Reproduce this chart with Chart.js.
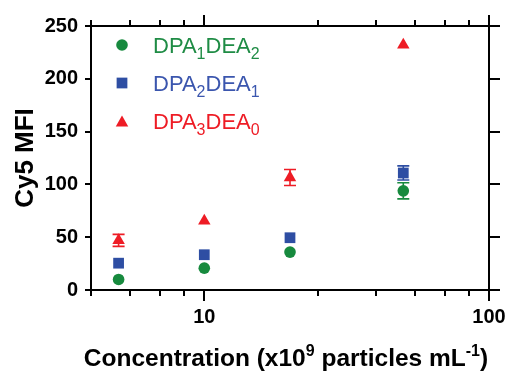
<!DOCTYPE html>
<html><head><meta charset="utf-8">
<script src="https://cdn.jsdelivr.net/npm/chart.js@4.4.1/dist/chart.umd.min.js"></script>
<style>html,body{margin:0;padding:0;background:#fff;} canvas{display:block;}</style>
</head><body>
<canvas id="c" width="508" height="371"></canvas>
<script>
// ---- data ----
const concentrations = [5, 10, 20, 50];
const dpa1dea2 = [10, 20.7, 35.9, 93.9];
const dpa1dea2Err = [0, 0, 0, 7.6];
const dpa2dea1 = [25.4, 33.4, 49.5, 110.8];
const dpa2dea1Err = [0, 0, 0, 6.7];
const dpa3dea0 = [47, 65.5, 106.5, 232];
const dpa3dea0Err = [5.7, 0, 7.6, 0];
const xTickValues = [4, 5.5, 7, 8.5, 10, 25, 40, 55, 70, 85, 100];
const xMajorTicks = [10, 100];
const yTickValues = [0, 50, 100, 150, 200, 250];
const legendParts = [
  ['DPA', '1', 'DEA', '2'],
  ['DPA', '2', 'DEA', '1'],
  ['DPA', '3', 'DEA', '0']
];

const GREEN = '#178a3e', BLUE = '#2e4ea3', RED = '#ee1c25';
const FONT = "'Liberation Sans', Arial, Helvetica, sans-serif";
Chart.defaults.font.family = FONT;
Chart.defaults.color = '#000';

const series = [
  {label: 'DPA1DEA2', values: dpa1dea2, err: dpa1dea2Err, color: GREEN, textColor: '#1f8c45', style: 'circle', radius: 5.8},
  {label: 'DPA2DEA1', values: dpa2dea1, err: dpa2dea1Err, color: BLUE, textColor: '#3b56ae', style: 'rect', radius: 7.6},
  {label: 'DPA3DEA0', values: dpa3dea0, err: dpa3dea0Err, color: RED, textColor: RED, style: 'triangle', radius: 7.2}
];

const errorBarPlugin = {
  id: 'errorBars',
  beforeDatasetsDraw(chart) {
    const {ctx} = chart; const xs = chart.scales.x, ys = chart.scales.y;
    ctx.save();
    series.forEach(s => {
      ctx.strokeStyle = s.color; ctx.lineWidth = 1.6;
      concentrations.forEach((c, i) => {
        if (!s.err[i]) return;
        const px = xs.getPixelForValue(c);
        const t = ys.getPixelForValue(s.values[i] + s.err[i]);
        const b = ys.getPixelForValue(s.values[i] - s.err[i]);
        ctx.beginPath();
        ctx.moveTo(px, t); ctx.lineTo(px, b);
        ctx.moveTo(px - 6, t); ctx.lineTo(px + 6, t);
        ctx.moveTo(px - 6, b); ctx.lineTo(px + 6, b);
        ctx.stroke();
      });
    });
    ctx.restore();
  }
};

const decorPlugin = {
  id: 'decor',
  afterDraw(chart) {
    const {ctx} = chart; const xs = chart.scales.x, xt = chart.scales.x2;
    ctx.save();
    // longer major ticks
    ctx.strokeStyle = '#000'; ctx.lineWidth = 2;
    xMajorTicks.forEach(v => {
      const px = Math.round(xs.getPixelForValue(v));
      ctx.beginPath();
      ctx.moveTo(px, xs.top); ctx.lineTo(px, xs.top + 11);
      ctx.moveTo(px, xt.bottom); ctx.lineTo(px, xt.bottom - 11);
      ctx.stroke();
    });
    // legend
    const lx = 122, tx = 153, rows = [45, 83, 121];
    series.forEach((s, k) => {
      const y = rows[k];
      ctx.fillStyle = s.color;
      const off = s.style === 'triangle' ? 1.8 : 0;
      Chart.helpers.drawPoint(ctx, {pointStyle: s.style, radius: s.radius, rotation: 0, borderWidth: 0}, lx, y + off);
      ctx.fillStyle = s.textColor;
      ctx.textBaseline = 'alphabetic'; ctx.textAlign = 'left';
      let x = tx; const base = y + 8;
      legendParts[k].forEach((p, j) => {
        const sub = j % 2 === 1;
        ctx.font = (sub ? '16px ' : '22px ') + FONT;
        ctx.fillText(p, x, sub ? base + 6 : base);
        x += ctx.measureText(p).width;
      });
    });
    // x axis title with superscripts
    const parts = [['Concentration (x10', 0], ['9', 1], [' particles mL', 0], ['-1', 1], [')', 0]];
    const big = 24.5, small = 16;
    let w = 0;
    parts.forEach(([t, sup]) => { ctx.font = 'bold ' + (sup ? small : big) + 'px ' + FONT; w += ctx.measureText(t).width; });
    let x = (chart.chartArea.left + chart.chartArea.right) / 2 - w / 2 - 4;
    const by = 366;
    ctx.fillStyle = '#000'; ctx.textAlign = 'left'; ctx.textBaseline = 'alphabetic';
    parts.forEach(([t, sup]) => {
      ctx.font = 'bold ' + (sup ? small : big) + 'px ' + FONT;
      ctx.fillText(t, x, sup ? by - 10 : by);
      x += ctx.measureText(t).width;
    });
    ctx.restore();
  }
};

const xTicksFn = scale => { scale.ticks = xTickValues.map(v => ({value: v})); };
const yTicksFn = scale => { scale.ticks = yTickValues.map(v => ({value: v})); };
const axisCommon = {
  border: {display: true, color: '#000', width: 2},
  grid: {display: true, drawOnChartArea: false, drawTicks: true, color: '#000', tickColor: '#000', lineWidth: 2, tickWidth: 2, tickLength: 6}
};

new Chart(document.getElementById('c'), {
  type: 'scatter',
  data: {
    datasets: series.map(s => ({
      label: s.label,
      data: concentrations.map((c, i) => ({x: c, y: s.values[i]})),
      pointStyle: s.style, pointRadius: s.radius, pointHoverRadius: s.radius,
      backgroundColor: s.color, borderColor: s.color, borderWidth: 0, showLine: false
    }))
  },
  options: {
    responsive: false, animation: false, events: [],
    layout: {padding: 0},
    plugins: {legend: {display: false}, tooltip: {enabled: false}},
    scales: {
      x: {
        type: 'logarithmic', position: 'bottom', min: 4, max: 100,
        afterBuildTicks: xTicksFn,
        ticks: {autoSkip: false, maxRotation: 0, padding: 9, font: {size: 20, weight: 'bold'}, color: '#000',
          callback: v => xMajorTicks.includes(v) ? String(v) : ''},
        ...axisCommon,
        afterFit: s => { s.height = 81; s.paddingLeft = 0; s.paddingRight = 0; }
      },
      x2: {
        type: 'logarithmic', position: 'top', min: 4, max: 100,
        afterBuildTicks: xTicksFn,
        ticks: {display: false},
        ...axisCommon,
        afterFit: s => { s.height = 26; s.paddingLeft = 0; s.paddingRight = 0; }
      },
      y: {
        type: 'linear', position: 'left', min: 0, max: 250,
        afterBuildTicks: yTicksFn,
        ticks: {padding: 7, font: {size: 20, weight: 'bold'}, color: '#000'},
        title: {display: true, text: 'Cy5 MFI', font: {size: 26, weight: 'bold'}, color: '#000', padding: {top: 10, bottom: 0}},
        ...axisCommon,
        afterFit: s => { s.width = 91; s.paddingTop = 0; s.paddingBottom = 0; }
      },
      y2: {
        type: 'linear', position: 'right', min: 0, max: 250,
        afterBuildTicks: yTicksFn,
        ticks: {display: false},
        border: axisCommon.border,
        grid: {...axisCommon.grid, tickLength: 11},
        afterFit: s => { s.width = 19; s.paddingTop = 0; s.paddingBottom = 0; }
      }
    }
  },
  plugins: [errorBarPlugin, decorPlugin]
});
</script>
</body></html>
